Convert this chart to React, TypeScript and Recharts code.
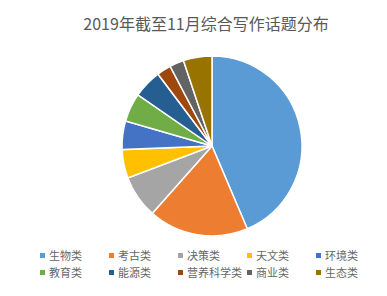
import React from 'react';
import { PieChart, Pie, Cell, Legend } from 'recharts';

const categories = ['生物类', '考古类', '决策类', '天文类', '环境类', '教育类', '能源类', '营养科学类', '商业类', '生态类'];
const counts = [17, 7, 3, 2, 2, 2, 2, 1, 1, 2];
const colors = ['#5B9BD5', '#ED7D31', '#A5A5A5', '#FFC000', '#4472C4', '#70AD47', '#255E91', '#9E480E', '#636363', '#997300'];
const title = '2019年截至11月综合写作话题分布';

const data = categories.map((name, i) => ({ name, value: counts[i] }));

const font = '"Noto Sans CJK SC", "Noto Sans", sans-serif';

function GridLegend() {
  return (
    <div style={{ display: 'grid', gridTemplateColumns: 'repeat(5, 69px)', rowGap: 3, paddingLeft: 40 }}>
      {categories.map((name, i) => (
        <div key={name} style={{ display: 'flex', alignItems: 'center', height: 14, fontSize: 11, color: '#666', fontFamily: font }}>
          <span style={{ width: 5, height: 5, background: colors[i], marginRight: 4, display: 'inline-block' }} />
          <span>{name}</span>
        </div>
      ))}
    </div>
  );
}

export default function App() {
  return (
    <div style={{ position: 'absolute', left: 0, top: 0, width: 387, height: 296, background: '#fff' }}>
      <div style={{ position: 'absolute', left: 0, top: 13, width: 412, textAlign: 'center', fontFamily: font, fontSize: 16, color: '#595959', lineHeight: '20px' }}>
        {title}
      </div>
      <PieChart width={387} height={296}>
        <Pie
          data={data}
          dataKey="value"
          nameKey="name"
          cx={207}
          cy={141}
          outerRadius={90}
          startAngle={90}
          endAngle={-270}
          stroke="#fff"
          strokeWidth={1.5}
          isAnimationActive={false}
        >
          {data.map((d, i) => (
            <Cell key={d.name} fill={colors[i]} />
          ))}
        </Pie>
        <Legend content={<GridLegend />} wrapperStyle={{ position: 'absolute', left: 0, top: 248, width: 387 }} />
      </PieChart>
    </div>
  );
}
